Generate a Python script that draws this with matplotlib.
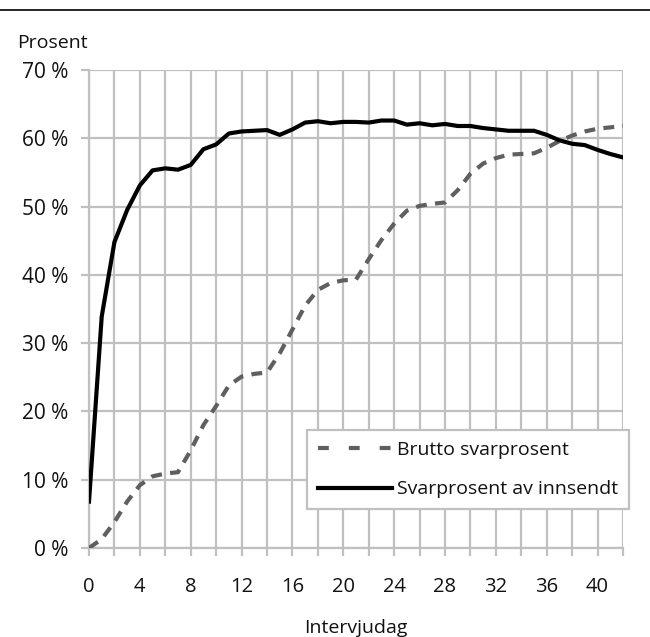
import matplotlib
matplotlib.use("Agg")
import matplotlib.pyplot as plt
from matplotlib.lines import Line2D
from matplotlib.ticker import MultipleLocator, FuncFormatter

# Intervjudag 0..42
days = list(range(0, 43))

brutto = [0.0, 1.3, 3.8, 6.8, 9.2, 10.5, 10.9, 11.1, 14.3, 18.0,
          20.8, 23.8, 25.1, 25.5, 25.7, 28.5, 32.0, 35.5, 37.8, 38.8,
          39.2, 39.3, 42.3, 45.1, 47.5, 49.4, 50.1, 50.4, 50.6, 52.4,
          54.8, 56.3, 57.1, 57.6, 57.7, 57.8, 58.6, 59.6, 60.4, 61.0,
          61.4, 61.6, 61.8]

innsendt = [6.8, 33.9, 44.8, 49.5, 53.1, 55.3, 55.6, 55.4, 56.1, 58.4,
            59.1, 60.7, 61.0, 61.1, 61.2, 60.5, 61.3, 62.3, 62.5, 62.2,
            62.4, 62.4, 62.3, 62.6, 62.6, 62.0, 62.2, 61.9, 62.1, 61.8,
            61.8, 61.5, 61.3, 61.1, 61.1, 61.1, 60.5, 59.7, 59.2, 59.0,
            58.3, 57.7, 57.2]

series_labels = ["Brutto svarprosent", "Svarprosent av innsendt"]

plt.rcParams['font.family'] = ['Open Sans', 'DejaVu Sans']
grid_col = '#c0c0c0'
dash_col = '#5f5f5f'
txt_col = '#111111'

fig = plt.figure(figsize=(6.5, 6.37), dpi=100)
ax = fig.add_axes([89/650, 1 - 548/637, (623 - 89)/650, (548 - 70)/637])

ax.plot(days, brutto, color=dash_col, lw=3, dashes=(2.6, 2.0),
        solid_capstyle='butt', zorder=3)
ax.plot(days, innsendt, color='black', lw=3, zorder=4)

ax.set_xlim(0, 42)
ax.set_ylim(0, 70)
ax.xaxis.set_major_locator(MultipleLocator(2))
ax.xaxis.set_major_formatter(FuncFormatter(lambda v, p: f"{int(v)}" if int(v) % 4 == 0 else ""))
ax.yaxis.set_major_locator(MultipleLocator(10))
ax.yaxis.set_major_formatter(FuncFormatter(lambda v, p: f"{int(v)} %"))

ax.grid(True, color=grid_col, lw=1.6, zorder=0)
ax.set_axisbelow(True)
for side in ['top', 'right']:
    ax.spines[side].set_visible(False)
for side in ['left', 'bottom']:
    ax.spines[side].set_color(grid_col)
    ax.spines[side].set_linewidth(1.6)
ax.tick_params(axis='both', colors=grid_col, width=1.6, length=6,
               labelcolor=txt_col)
ax.tick_params(axis='x', pad=15, labelsize=14.5)
ax.tick_params(axis='y', pad=9, labelsize=15)

ax.set_xlabel("Intervjudag", fontsize=14, color=txt_col, labelpad=16)
fig.text(17/650, 1 - 43/637, "Prosent", fontsize=14, color=txt_col,
         ha='left', va='center')

# legend handles (Excel style: widely spaced dashes)
handles = [Line2D([], [], color=dash_col, lw=3, dashes=(2.6, 4.8)),
           Line2D([], [], color='black', lw=3)]
leg = ax.legend(handles, series_labels, loc='lower left',
                bbox_to_anchor=(307/650, 1 - 509/637),
                bbox_transform=fig.transFigure, fontsize=14, frameon=True,
                fancybox=False, handlelength=3.8, handletextpad=0.3,
                borderpad=0.55, labelspacing=1.1, borderaxespad=0)
for t in leg.get_texts():
    t.set_color(txt_col)
leg.get_frame().set_edgecolor(grid_col)
leg.get_frame().set_linewidth(1.6)
leg.get_frame().set_facecolor('white')
leg.get_frame().set_alpha(1)

# top rule
fig.add_artist(Line2D([0, 1], [1 - 9.5/637, 1 - 9.5/637], color='black', lw=1.2,
                      transform=fig.transFigure))

fig.savefig("out.png", dpi=100)
